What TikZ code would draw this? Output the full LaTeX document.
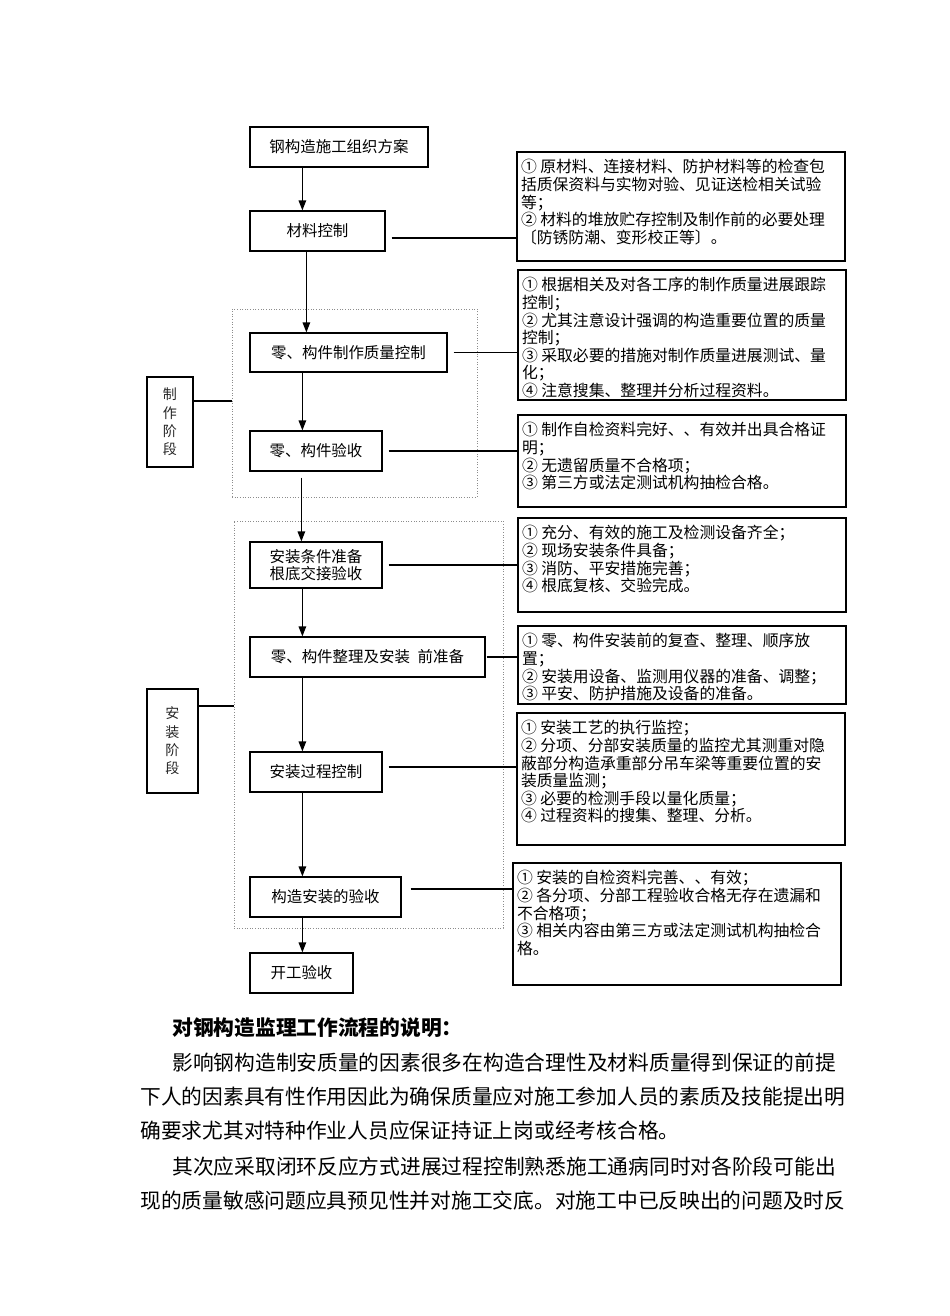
\documentclass[tikz,border=0pt]{standalone}
\usepackage{fontspec}
\setmainfont{Noto Sans CJK SC}
\usepackage{xcolor}
\usepackage{tikz}
\usetikzlibrary{arrows.meta, positioning, fit, calc}
\definecolor{cadre_gris}{RGB}{140, 140, 140}
\newcommand{\bloc}[2]{\parbox[c][#1][t]{64mm}{#2}}

\begin{document}
\begin{tikzpicture}[x=0.2mm, y=-0.2mm,
    etape/.style={draw, line width=0.7pt, align=center, inner sep=0pt,
      minimum height=8mm, font=\fontsize{8.8pt}{10pt}\selectfont},
    phase/.style={draw, line width=0.7pt, align=center, inner sep=0pt,
      text=black!85, font=\fontsize{8pt}{10.4pt}\selectfont},
    note/.style={draw, line width=0.7pt, inner xsep=0.8mm, inner ysep=1.5mm,
      font=\fontsize{9pt}{10pt}\selectfont},
    groupe/.style={draw=cadre_gris, densely dotted, line width=0.5pt, inner sep=0pt},
    fleche/.style={-{Triangle[length=2mm, width=1.5mm]}, line width=0.7pt},
    lien/.style={line width=0.7pt, shorten <=1.2mm},
    corps/.style={anchor=west, inner sep=0pt, font=\fontsize{11.8pt}{14pt}\selectfont}]
  \useasboundingbox (0,0) rectangle (950,1316);
  % Cadres pointillés des phases
  \node[groupe, minimum width=49mm, minimum height=37.6mm] (g1) at (354.5,403) {};
  \node[groupe, minimum width=53.8mm, minimum height=81.4mm] (g2) at (368.5,724.5) {};
  % Étapes principales
  \node[etape, minimum width=35.6mm] (plan) at (339,147) {钢构造施工组织方案};
  \node[etape, minimum width=27mm] (mat) at (317.5,231) {材料控制};
  \node[etape, minimum width=39.4mm, minimum height=7.8mm] (fab) at (348.5,352.5) {零、构件制作质量控制};
  \node[etape, minimum width=26.4mm] (recep) at (316,451) {零、构件验收};
  \node[etape, minimum width=26.4mm, minimum height=9.2mm] (prep) at (316,565) {安装条件准备\\根底交接验收};
  \node[etape, minimum width=47mm] (tri) at (367.5,657) {零、构件整理及安装\hspace{0.5em}前准备};
  \node[etape, minimum width=26.4mm] (proc) at (316,772) {安装过程控制};
  \node[etape, minimum width=30.2mm] (fin) at (325.5,897) {构造安装的验收};
  \node[etape, minimum width=20.6mm] (ouv) at (301.5,973) {开工验收};
  % Phases
  \node[phase, minimum width=9.2mm, minimum height=18mm] (ph1) at (170,422) {制\\作\\阶\\段};
  \node[phase, minimum width=10.2mm, minimum height=20.8mm] (ph2) at (172.5,741) {安\\装\\阶\\段};
  % Notes à droite
  \node[note] (n1) at (681,206.5) {\bloc{18.8mm}{%
    ① 原材料、连接材料、防护材料等的检查包\\
    括质保资料与实物对验、见证送检相关试验\\
    等；\\
    ② 材料的堆放贮存控制及制作前的必要处理\\
    〔防锈防潮、变形校正等〕。}};
  \node[note] (n2) at (682,335) {\bloc{23mm}{%
    ① 根据相关及对各工序的制作质量进展跟踪\\
    控制；\\
    ② 尤其注意设计强调的构造重要位置的质量\\
    控制；\\
    ③ 采取必要的措施对制作质量进展测试、量\\
    化；\\
    ④ 注意搜集、整理并分析过程资料。}};
  \node[note] (n3) at (682,461) {\bloc{15.4mm}{%
    ① 制作自检资料完好、、有效并出具合格证\\
    明；\\
    ② 无遗留质量不合格项；\\
    ③ 第三方或法定测试机构抽检合格。}};
  \node[note] (n4) at (682,565) {\bloc{15.8mm}{%
    ① 充分、有效的施工及检测设备齐全；\\
    ② 现场安装条件具备；\\
    ③ 消防、平安措施完善；\\
    ④ 根底复核、交验完成。}};
  \node[note] (n5) at (682,665) {\bloc{12.6mm}{%
    ① 零、构件安装前的复查、整理、顺序放\\
    置；\\
    ② 安装用设备、监测用仪器的准备、调整；\\
    ③ 平安、防护措施及设备的准备。}};
  \node[note] (n6) at (681,779) {\bloc{23.4mm}{%
    ① 安装工艺的执行监控；\\
    ② 分项、分部安装质量的监控尤其测重对隐\\
    蔽部分构造承重部分吊车梁等重要位置的安\\
    装质量监测；\\
    ③ 必要的检测手段以量化质量；\\
    ④ 过程资料的搜集、整理、分析。}};
  \node[note] (n7) at (677,924) {\bloc{21.4mm}{%
    ① 安装的自检资料完善、、有效；\\
    ② 各分项、分部工程验收合格无存在遗漏和\\
    不合格项；\\
    ③ 相关内容由第三方或法定测试机构抽检合\\
    格。}};
  % Flèches verticales
  \draw[fleche] ([xshift=10.6mm]plan.south west) -- ([xshift=10.6mm]plan.south west |- mat.north);
  \draw[fleche] ([xshift=11.4mm]mat.south west) -- ([xshift=11.4mm]mat.south west |- fab.north);
  \draw[fleche] ([xshift=10.6mm]fab.south west) -- ([xshift=10.6mm]fab.south west |- recep.north);
  \draw[fleche, shorten <=1.2mm] ([xshift=10.4mm]recep.south west) -- ([xshift=10.4mm]recep.south west |- prep.north);
  \draw[fleche] ([xshift=10.6mm]prep.south west) -- ([xshift=10.6mm]prep.south west |- tri.north);
  \draw[fleche] ([xshift=10.6mm]tri.south west) -- ([xshift=10.6mm]tri.south west |- proc.north);
  \draw[fleche] ([xshift=10.6mm]proc.south west) -- ([xshift=10.6mm]proc.south west |- fin.north);
  \draw[fleche] ([xshift=10.6mm]fin.south west) -- ([xshift=10.6mm]fin.south west |- ouv.north);
  % Liens vers les notes
  \draw[lien] ([yshift=-1.4mm]mat.east) -- ([yshift=-1.4mm]mat.east -| n1.west);
  \draw[lien] (fab.east) -- (fab.east -| n2.west);
  \draw[lien] (recep.east) -- (recep.east -| n3.west);
  \draw[lien] (prep.east) -- (prep.east -| n4.west);
  \draw[lien, shorten <=0.2mm] (tri.east) -- (tri.east -| n5.west);
  \draw[lien] ([yshift=1mm]proc.east) -- ([yshift=1mm]proc.east -| n6.west);
  \draw[lien, shorten <=1.8mm] ([yshift=1.6mm]fin.east) -- ([yshift=1.6mm]fin.east -| n7.west);
  % Liens des phases
  \draw[lien, shorten <=0mm] ([yshift=4.2mm]ph1.east) -- ([yshift=4.2mm]ph1.east -| g1.west);
  \draw[lien, shorten <=0mm] ([yshift=7mm]ph2.east) -- ([yshift=7mm]ph2.east -| g2.west);
  % Texte explicatif
  \node[corps, font=\fontsize{11.8pt}{14pt}\selectfont\bfseries] (titre) at (172,1028) {对钢构造监理工作流程的说明：};
  \node[corps] (p1a) at (172,1063) {影响钢构造制安质量的因素很多在构造合理性及材料质量得到保证的前提};
  \node[corps] (p1b) at (140,1097) {下人的因素具有性作用因此为确保质量应对施工参加人员的素质及技能提出明};
  \node[corps] (p1c) at (140,1131) {确要求尤其对特种作业人员应保证持证上岗或经考核合格。};
  \node[corps] (p2a) at (172,1167) {其次应采取闭环反应方式进展过程控制熟悉施工通病同时对各阶段可能出};
  \node[corps] (p2b) at (140,1201) {现的质量敏感问题应具预见性并对施工交底。对施工中已反映出的问题及时反};
\end{tikzpicture}
\end{document}
